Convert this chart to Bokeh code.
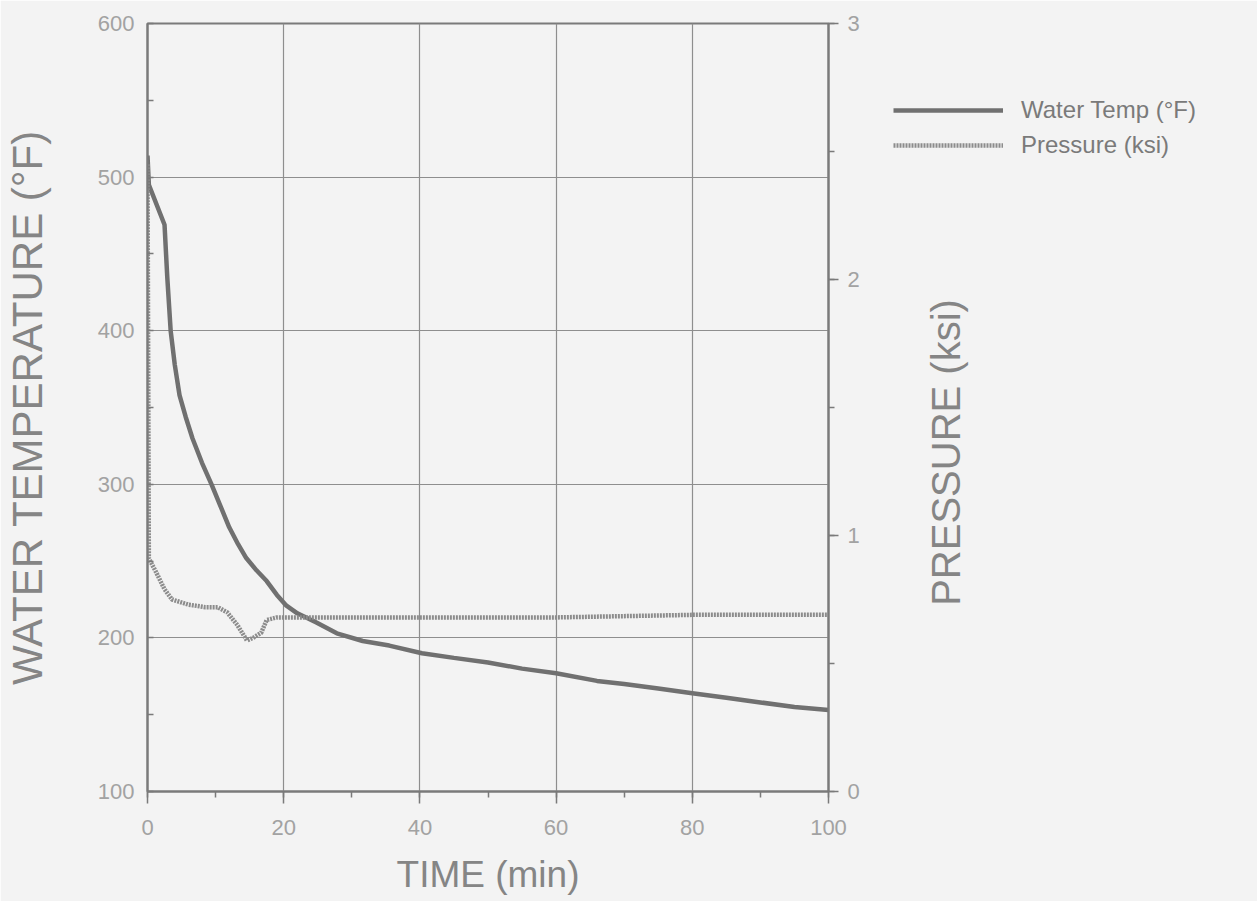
import math
from bokeh.plotting import figure
from bokeh.layouts import row
from bokeh.core.properties import value
from bokeh.models import (Range1d, LinearAxis, SingleIntervalTicker, Legend, LegendItem,
                          Label)
from bokeh.embed import file_html
from bokeh.resources import INLINE

# ---- data ----
time_temp = [0, 0.2, 2.5, 2.9, 3.4, 4.0, 4.7, 5.6, 6.6, 8.0, 9.4, 10.7, 12.0, 13.3, 14.5,
             16.0, 17.5, 19.0, 20.4, 22.0, 24.8, 27.8, 31.6, 35.5, 40.3, 45.0, 50.0,
             55.0, 60.0, 66.0, 70.0, 75.0, 80.0, 85.0, 90.0, 95.0, 100.0]
temp_f = [514, 495, 469, 435, 400, 378, 358, 344, 330, 314, 300, 286, 272, 261, 252,
          244, 237, 228, 221, 216, 210, 203, 198, 195, 190, 187, 184,
          180, 177, 172, 170, 167, 164, 161, 158, 155, 153]

time_p = [0, 0.2, 1.2, 2.5, 3.6, 6.0, 8.5, 10.3, 11.7, 13.2, 14.6, 15.5, 16.7, 17.5,
          19.0, 25.0, 40.0, 60.0, 80.0, 100.0]
pressure_ksi = [2.45, 0.91, 0.86, 0.79, 0.75, 0.73, 0.72, 0.72, 0.70, 0.65, 0.59, 0.60,
                0.62, 0.67, 0.68, 0.68, 0.68, 0.68, 0.69, 0.69]

x_label = "TIME (min)"
y_label = "WATER TEMPERATURE (°F)"
y2_label = "PRESSURE (ksi)"
legend_labels = ["Water Temp (°F)", "Pressure (ksi)"]

# ---- styling ----
W, H = 1257, 901
BG = "#f3f3f3"
FRAME = "#7a7a7a"
GRID = "#8e8e8e"
TICK_TXT = "#a2a2a2"
LABEL_TXT = "#858585"
FONT = "Liberation Sans"
T_STYLE = dict(line_color="#707070", line_width=4.5)
P_STYLE = dict(line_color="#8c8c8c", line_width=4.5, line_dash="2 1")


def style_axis(ax, label_size):
    ax.axis_line_color = FRAME
    ax.axis_line_width = 2
    ax.major_tick_line_color = FRAME
    ax.major_tick_line_width = 1.5
    ax.minor_tick_line_color = FRAME
    ax.minor_tick_line_width = 1.5
    ax.major_label_text_font = FONT
    ax.major_label_text_font_size = "22px"
    ax.major_label_text_color = TICK_TXT
    ax.axis_label_text_font = FONT
    ax.axis_label_text_font_size = label_size
    ax.axis_label_text_font_style = "normal"
    ax.axis_label_text_color = LABEL_TXT


p = figure(width=W, height=H,
           x_range=Range1d(0, 100), y_range=Range1d(100, 600),
           output_backend="svg", toolbar_location=None,
           min_border_left=144, min_border_right=429,
           min_border_top=23, min_border_bottom=110,
           background_fill_color=BG, border_fill_color=BG)

p.outline_line_color = FRAME
p.outline_line_width = 2

# bottom axis
xax = p.below[0]
style_axis(xax, "37px")
xax.ticker = SingleIntervalTicker(interval=20, num_minor_ticks=2)
xax.axis_label = x_label
xax.major_tick_out = 12
xax.major_tick_in = 0
xax.minor_tick_out = 6
xax.minor_tick_in = 0
xax.major_label_standoff = 16
xax.axis_label_standoff = 16

# left axis
yax = p.left[0]
style_axis(yax, "42px")
yax.ticker = SingleIntervalTicker(interval=100, num_minor_ticks=2)
yax.axis_label = y_label
yax.major_tick_out = 0
yax.major_tick_in = 0
yax.minor_tick_out = 0
yax.minor_tick_in = 6
yax.major_label_standoff = 13
yax.axis_label_standoff = 44

# right axis (pressure)
p.extra_y_ranges = {"p": Range1d(0, 3)}
y2 = LinearAxis(y_range_name="p",
                ticker=SingleIntervalTicker(interval=1, num_minor_ticks=2))
style_axis(y2, "40px")
y2.major_tick_out = 10
y2.major_tick_in = 0
y2.minor_tick_out = 6
y2.minor_tick_in = 0
y2.major_label_standoff = 9
p.add_layout(y2, "right")

p.xgrid.ticker = SingleIntervalTicker(interval=20)
p.ygrid.ticker = SingleIntervalTicker(interval=100)
for g in (p.xgrid, p.ygrid):
    g.grid_line_color = GRID
    g.grid_line_width = 1.2

p.line(time_temp, temp_f, **T_STYLE)
p.line(time_p, pressure_ksi, y_range_name="p", **P_STYLE)

# ---- overlay: a transparent full-size figure carrying the legend and the
#      right-hand axis title, both outside the main plot frame ----
leg = figure(width=W, height=H, x_range=Range1d(0, 1), y_range=Range1d(0, 1),
             output_backend="svg", toolbar_location=None,
             x_axis_location=None, y_axis_location=None, min_border=0,
             border_fill_alpha=0, background_fill_alpha=0, outline_line_color=None)
leg.grid.visible = False
if leg.title is not None:
    leg.title.visible = False
nan = float("nan")
s_t = leg.line([nan], [nan], **T_STYLE)
s_p = leg.line([nan], [nan], **P_STYLE)
legend = Legend(items=[LegendItem(label=legend_labels[0], renderers=[s_t]),
                       LegendItem(label=legend_labels[1], renderers=[s_p])],
                location=(893, 632), glyph_width=110, glyph_height=20,
                label_standoff=18, spacing=7, padding=0, margin=0,
                border_line_alpha=0, background_fill_alpha=0,
                label_text_font=FONT, label_text_font_size="24px",
                label_text_color="#7a7a7a")
leg.add_layout(legend)

y2_title = Label(x=945, y=339, x_units="screen", y_units="screen", text=y2_label,
                 angle=math.pi / 2, text_align="center", text_baseline="middle",
                 text_font=FONT, text_font_size="40px", text_color=LABEL_TXT)
leg.add_layout(y2_title)
leg.margin = (0, 0, 0, -W)

layout = row(p, leg)
open("out.html", "w").write(file_html(layout, INLINE))
